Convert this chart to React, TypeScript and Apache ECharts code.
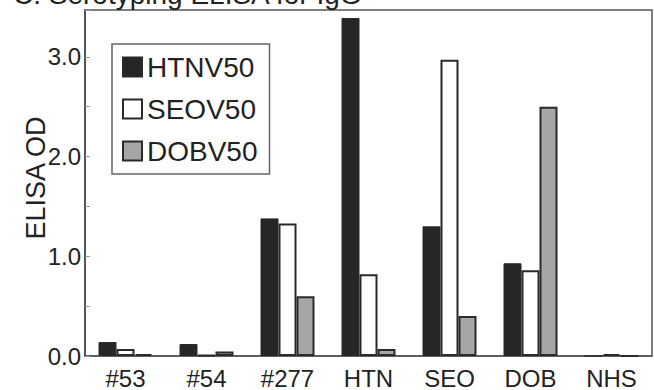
import React, { useEffect, useRef } from "react";
import * as echarts from "echarts";

const categories = ["#53", "#54", "#277", "HTN", "SEO", "DOB", "NHS"];
const htnv50 = [0.14, 0.12, 1.38, 3.39, 1.3, 0.93, 0];
const seov50 = [0.07, 0.01, 1.33, 0.82, 2.97, 0.86, 0.02];
const dobv50 = [0.02, 0.045, 0.6, 0.07, 0.4, 2.5, 0];
const yTicks = [0, 1, 2, 3];

const FONT = "Liberation Sans, Arial, sans-serif";

export default function App() {
  const ref = useRef<HTMLDivElement>(null);
  useEffect(() => {
    document.body.style.margin = "0";
    if (!ref.current) return;
    const chart = echarts.init(ref.current, undefined, { renderer: "svg" });
    const border = "#2a2a2a";
    chart.setOption({
      animation: false,
      backgroundColor: "#ffffff",
      textStyle: { fontFamily: FONT },
      grid: {
        left: 85,
        right: 2,
        top: 10,
        bottom: 33,
        show: true,
        borderColor: "#555",
        borderWidth: 1.5,
        containLabel: false,
      },
      legend: {
        left: 112,
        top: 44,
        orient: "vertical",
        padding: [9, 12, 9, 10],
        borderColor: "#666",
        borderWidth: 1.5,
        itemWidth: 19,
        itemHeight: 19,
        itemGap: 14,
        icon: "rect",
        textStyle: { fontSize: 28, color: "#222", fontFamily: FONT },
        data: ["HTNV50", "SEOV50", "DOBV50"],
      },
      graphic: [
        {
          type: "text",
          x: 13,
          y: -6,
          style: {
            text: "C. Serotyping ELISA for IgG",
            font: `28px ${FONT}`,
            fill: "#222",
            textVerticalAlign: "middle",
          },
        },
        {
          type: "text",
          x: 36,
          y: 178,
          rotation: Math.PI / 2,
          style: {
            text: "ELISA OD",
            font: `27px ${FONT}`,
            fill: "#222",
            textAlign: "center",
            textVerticalAlign: "middle",
          },
        },
      ],
      xAxis: {
        type: "category",
        data: categories,
        axisLine: { lineStyle: { color: "#555", width: 1.5 } },
        axisTick: { inside: true, length: 4, lineStyle: { color: "#999" } },
        axisLabel: { fontSize: 24, color: "#222", margin: 10, fontFamily: FONT },
      },
      yAxis: {
        type: "value",
        min: 0,
        max: 3.47,
        interval: 0.5,
        splitLine: { show: false },
        axisLine: { show: true, lineStyle: { color: "#444", width: 1.5 } },
        axisTick: { show: true, inside: true, length: 5, lineStyle: { color: "#999" } },
        axisLabel: {
          fontSize: 24,
          color: "#222",
          margin: 4,
          fontFamily: FONT,
          formatter: (v: number) =>
            yTicks.indexOf(Math.round(v * 100) / 100) >= 0 ? v.toFixed(1) : "",
        },
      },
      series: [
        {
          name: "HTNV50",
          type: "bar",
          data: htnv50,
          barWidth: 18,
          barGap: "0%",
          itemStyle: { color: "#262626", borderColor: border, borderWidth: 1 },
        },
        {
          name: "SEOV50",
          type: "bar",
          data: seov50,
          barWidth: 18,
          barGap: "0%",
          itemStyle: { color: "#ffffff", borderColor: border, borderWidth: 2 },
        },
        {
          name: "DOBV50",
          type: "bar",
          data: dobv50,
          barWidth: 18,
          barGap: "0%",
          itemStyle: { color: "#a6a6a6", borderColor: border, borderWidth: 2 },
        },
      ],
    });
    return () => chart.dispose();
  }, []);
  return <div ref={ref} style={{ width: 654, height: 390 }} />;
}
